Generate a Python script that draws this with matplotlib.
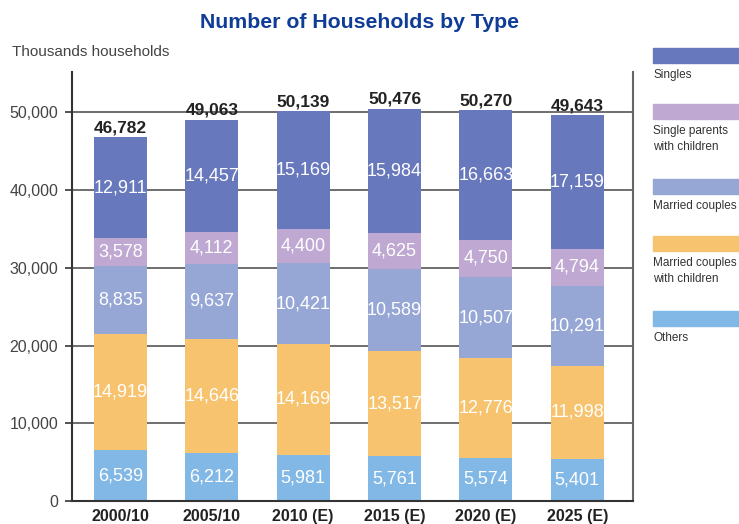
import matplotlib.pyplot as plt
from matplotlib.patches import Rectangle

years = ["2000/10", "2005/10", "2010 (E)", "2015 (E)", "2020 (E)", "2025 (E)"]

others = [6539, 6212, 5981, 5761, 5574, 5401]
married_with_children = [14919, 14646, 14169, 13517, 12776, 11998]
married_couples = [8835, 9637, 10421, 10589, 10507, 10291]
single_parents = [3578, 4112, 4400, 4625, 4750, 4794]
singles = [12911, 14457, 15169, 15984, 16663, 17159]
totals = [46782, 49063, 50139, 50476, 50270, 49643]

series = [
    ("Others", others, "#82b8e5"),
    ("Married couples\nwith children", married_with_children, "#f7c36e"),
    ("Married couples", married_couples, "#96a7d6"),
    ("Single parents\nwith children", single_parents, "#bfa8d2"),
    ("Singles", singles, "#6878bc"),
]

plt.rcParams["font.family"] = ["Liberation Sans", "DejaVu Sans"]


def main():
    fig = plt.figure(figsize=(7.39, 5.24), dpi=100)
    ax = fig.add_axes([72 / 739, 23 / 524, (633 - 72) / 739, (501 - 72) / 524])

    x = list(range(len(years)))
    bottom = [0] * len(years)
    for name, values, color in series:
        ax.bar(x, values, width=0.58, bottom=bottom, color=color, zorder=2)
        for xi, b, v in zip(x, bottom, values):
            ax.text(xi, b + v / 2, f"{v:,}", ha="center", va="center",
                    color="white", fontsize=13, zorder=3)
        bottom = [b + v for b, v in zip(bottom, values)]

    for xi, t in zip(x, totals):
        ax.annotate(f"{t:,}", (xi, t), xytext=(0, 1.5), textcoords="offset points",
                    ha="center", va="bottom", fontsize=12.5, fontweight="bold",
                    color="#222222")

    ax.set_xlim(-0.53, 5.61)
    ax.set_ylim(0, 55200)
    ax.set_yticks(range(0, 50001, 10000))
    ax.set_yticklabels([f"{v:,}" for v in range(0, 50001, 10000)])
    ax.set_xticks(x)
    ax.set_xticklabels(years, fontweight="bold", fontsize=11.5, color="#222222")
    ax.tick_params(axis="x", length=0, pad=6)
    ax.tick_params(axis="y", length=5, width=1.2, color="#333333",
                   labelsize=11.5, labelcolor="#444444", pad=5)
    ax.yaxis.grid(True, color="#555555", linewidth=1.2, zorder=0)
    ax.set_axisbelow(True)

    ax.spines["top"].set_visible(False)
    for side in ["left", "bottom"]:
        ax.spines[side].set_color("#333333")
        ax.spines[side].set_linewidth(1.5)
    ax.spines["right"].set_color("#666666")
    ax.spines["right"].set_linewidth(1.5)

    fig.text(360 / 739, 1 - 22 / 524, "Number of Households by Type",
             ha="center", va="center", fontsize=15.3, fontweight="bold",
             color="#0f3c96")
    fig.text(12 / 739, 1 - 52 / 524, "Thousands households",
             ha="left", va="center", fontsize=11, color="#444444")

    # legend: patch on top, text underneath
    patch_tops = [48, 104, 179, 236, 311]
    legend_order = list(reversed(series))
    for top, (name, values, color) in zip(patch_tops, legend_order):
        fig.patches.append(Rectangle((653 / 739, 1 - (top + 15) / 524),
                                     86 / 739, 15 / 524, color=color,
                                     transform=fig.transFigure, figure=fig))
        fig.text(653 / 739, 1 - (top + 21) / 524, name, ha="left", va="top",
                 fontsize=8.5, color="#333333", linespacing=1.5)

    fig.savefig("out.png", dpi=100)


if __name__ == "__main__":
    main()
